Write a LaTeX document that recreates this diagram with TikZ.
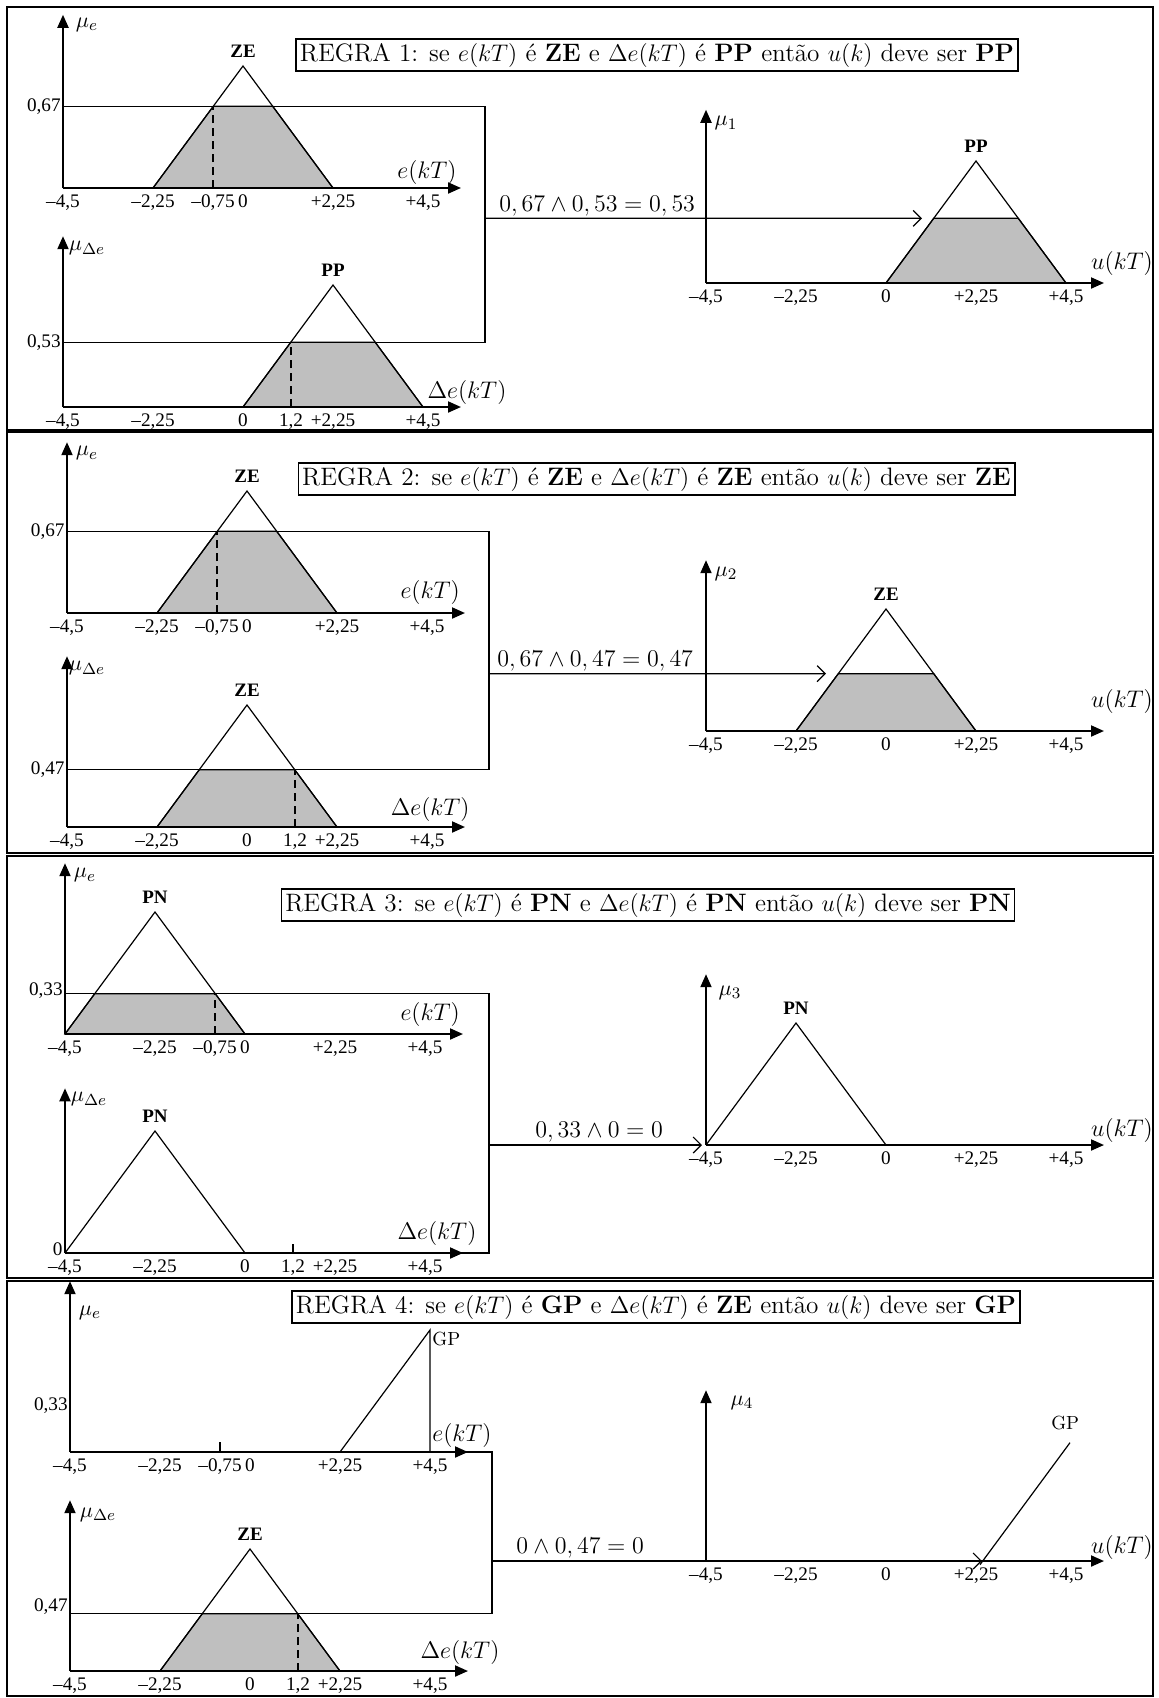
\documentclass[tikz,border=0pt]{standalone}
\usepackage{fontspec}
\usepackage{amsmath}
\newfontfamily\tickfont{Liberation Serif}
\usetikzlibrary{arrows.meta, positioning}

% tick lists of the three axes
\newcommand{\eticks}{-4.5/{–4,5}, -2.25/{–2,25}, -0.75/{–0,75}, 0/0, 2.25/{+2,25}, 4.5/{+4,5}}
\newcommand{\deticks}{-4.5/{–4,5}, -2.25/{–2,25}, 0/0, 1.2/{1,2}, 2.25/{+2,25}, 4.5/{+4,5}}
\newcommand{\uticks}{-4.5/{–4,5}, -2.25/{–2,25}, 0/0, 2.25/{+2,25}, 4.5/{+4,5}}

\begin{document}
\begin{tikzpicture}[
    x=0.5pt, y=-0.5pt,
    panel/.style={line width=0.9pt},
    axis/.style={line width=1pt, -{Triangle[length=6.5pt,width=5.5pt]}},
    mf/.style={line width=0.6pt},
    cut/.style={draw, fill=black!25, line width=0.6pt},
    dashline/.style={line width=0.6pt, dash pattern=on 4pt off 2.5pt},
    guide/.style={line width=0.6pt},
    flow/.style={line width=0.6pt, -{Straight Barb[length=4pt,width=8pt]}},
    tick/.style={font=\tickfont\fontsize{9.6}{11}\selectfont, anchor=north, inner sep=0pt, yshift=-3pt},
    lvl/.style={font=\tickfont\fontsize{9.6}{11}\selectfont, anchor=east, inner sep=1pt},
    setname/.style={font=\tickfont\bfseries\fontsize{9.5}{11}\selectfont, anchor=south, inner sep=1pt, yshift=3pt},
    gpname/.style={font=\fontsize{9.5}{11}\selectfont, inner sep=1pt},
    var/.style={font=\fontsize{12.3}{14}\selectfont, inner sep=0pt},
    mu/.style={font=\fontsize{11}{13}\selectfont, inner sep=0pt},
    rule/.style={draw, line width=0.7pt, inner sep=2pt, font=\fontsize{12.6}{15}\selectfont},
    op/.style={font=\fontsize{12.2}{14}\selectfont, inner sep=1pt}
]
\useasboundingbox (0,0) rectangle (1159,1698);

% ================= REGRA 1 =================
\draw[panel] (7,7) rectangle (1153,430);
\node[rule] (r1) at (657,55) {REGRA 1: se $e(kT)$ é \textbf{ZE} e $\Delta e(kT)$ é \textbf{PP} então $u(k)$ deve ser \textbf{PP}};

% e(kT)
\begin{scope}[shift={(243,188)}, x=20pt, y=61pt]
  \draw[cut] (-2.25,0) -- (-0.7425,0.67) -- (0.7425,0.67) -- (2.25,0) -- cycle;
  \draw[mf] (-2.25,0) -- (0,1) -- (2.25,0);
  \draw[dashline] (-0.75,0) -- (-0.75,0.67);
  \draw[axis] (-4.5,0) -- (5.45,0);
  \draw[axis] (-4.5,0) -- (-4.5,1.42);
  \node[mu] (m1e) at (-3.9,1.34) {$\mu_{e}$};
  \node[setname] (s1e) at (0,1) {ZE};
  \node[var] (v1e) at (4.6,0.13) {$e(kT)$};
  \node[lvl] (l1e) at (-4.5,0.67) {0,67};
  \coordinate (c1e) at (-4.5,0.67);
  \foreach \v/\t [count=\k] in \eticks \node[tick] (t1e\k) at (\v,0) {\t};
\end{scope}

% Delta e(kT)
\begin{scope}[shift={(243,407)}, x=20pt, y=61pt]
  \draw[cut] (0,0) -- (1.1925,0.53) -- (3.3075,0.53) -- (4.5,0) -- cycle;
  \draw[mf] (0,0) -- (2.25,1) -- (4.5,0);
  \draw[dashline] (1.2,0) -- (1.2,0.53);
  \draw[axis] (-4.5,0) -- (5.45,0);
  \draw[axis] (-4.5,0) -- (-4.5,1.4);
  \node[mu] (m1d) at (-3.9,1.3) {$\mu_{\Delta e}$};
  \node[setname] (s1d) at (2.25,1) {PP};
  \node[var] (v1d) at (5.6,0.12) {$\Delta e(kT)$};
  \node[lvl] (l1d) at (-4.5,0.53) {0,53};
  \coordinate (c1d) at (-4.5,0.53);
  \foreach \v/\t [count=\k] in \deticks \node[tick] (t1d\k) at (\v,0) {\t};
\end{scope}

% u(kT)
\begin{scope}[shift={(886,283)}, x=20pt, y=61pt]
  \draw[cut] (0,0) -- (1.1925,0.53) -- (3.3075,0.53) -- (4.5,0) -- cycle;
  \draw[mf] (0,0) -- (2.25,1) -- (4.5,0);
  \draw[axis] (-4.5,0) -- (5.45,0);
  \draw[axis] (-4.5,0) -- (-4.5,1.42);
  \node[mu] (m1u) at (-4.0,1.31) {$\mu_{1}$};
  \node[setname] (s1u) at (2.25,1) {PP};
  \node[var] (v1u) at (5.9,0.16) {$u(kT)$};
  \coordinate (c1u) at (0.9,0.53);
  \foreach \v/\t [count=\k] in \uticks \node[tick] (t1u\k) at (\v,0) {\t};
\end{scope}

\coordinate (c1o) at (485,218.34);
\draw[guide] (c1e) -| (c1o) |- (c1d);
\draw[flow] (c1o) -- (c1u);
\node[op, above right=0pt and 6pt of c1o] (f1) {$0,67\wedge 0,53=0,53$};

% ================= REGRA 2 =================
\draw[panel] (7,432) rectangle (1153,853);
\node[rule] (r2) at (656.5,479) {REGRA 2: se $e(kT)$ é \textbf{ZE} e $\Delta e(kT)$ é \textbf{ZE} então $u(k)$ deve ser \textbf{ZE}};

% e(kT)
\begin{scope}[shift={(247,613)}, x=20pt, y=61pt]
  \draw[cut] (-2.25,0) -- (-0.7425,0.67) -- (0.7425,0.67) -- (2.25,0) -- cycle;
  \draw[mf] (-2.25,0) -- (0,1) -- (2.25,0);
  \draw[dashline] (-0.75,0) -- (-0.75,0.67);
  \draw[axis] (-4.5,0) -- (5.45,0);
  \draw[axis] (-4.5,0) -- (-4.5,1.4);
  \node[mu] (m2e) at (-4.0,1.31) {$\mu_{e}$};
  \node[setname] (s2e) at (0,1) {ZE};
  \node[var] (v2e) at (4.58,0.17) {$e(kT)$};
  \node[lvl] (l2e) at (-4.5,0.67) {0,67};
  \coordinate (c2e) at (-4.5,0.67);
  \foreach \v/\t [count=\k] in \eticks \node[tick] (t2e\k) at (\v,0) {\t};
\end{scope}

% Delta e(kT)
\begin{scope}[shift={(247,827)}, x=20pt, y=61pt]
  \draw[cut] (-2.25,0) -- (-1.1925,0.47) -- (1.1925,0.47) -- (2.25,0) -- cycle;
  \draw[mf] (-2.25,0) -- (0,1) -- (2.25,0);
  \draw[dashline] (1.2,0) -- (1.2,0.47);
  \draw[axis] (-4.5,0) -- (5.45,0);
  \draw[axis] (-4.5,0) -- (-4.5,1.4);
  \node[mu] (m2d) at (-4.0,1.3) {$\mu_{\Delta e}$};
  \node[setname] (s2d) at (0,1) {ZE};
  \node[var] (v2d) at (4.58,0.14) {$\Delta e(kT)$};
  \node[lvl] (l2d) at (-4.5,0.47) {0,47};
  \coordinate (c2d) at (-4.5,0.47);
  \foreach \v/\t [count=\k] in \deticks \node[tick] (t2d\k) at (\v,0) {\t};
\end{scope}

% u(kT)
\begin{scope}[shift={(886,731)}, x=20pt, y=61pt]
  \draw[cut] (-2.25,0) -- (-1.1925,0.47) -- (1.1925,0.47) -- (2.25,0) -- cycle;
  \draw[mf] (-2.25,0) -- (0,1) -- (2.25,0);
  \draw[axis] (-4.5,0) -- (5.45,0);
  \draw[axis] (-4.5,0) -- (-4.5,1.4);
  \node[mu] (m2u) at (-4.0,1.29) {$\mu_{2}$};
  \node[setname] (s2u) at (0,1) {ZE};
  \node[var] (v2u) at (5.9,0.24) {$u(kT)$};
  \coordinate (c2u) at (-1.5,0.47);
  \foreach \v/\t [count=\k] in \uticks \node[tick] (t2u\k) at (\v,0) {\t};
\end{scope}

\coordinate (c2o) at (489,673.66);
\draw[guide] (c2e) -| (c2o) |- (c2d);
\draw[flow] (c2o) -- (c2u);
\node[op, above right=0pt and 3pt of c2o] (f2) {$0,67\wedge 0,47=0,47$};

% ================= REGRA 3 =================
\draw[panel] (7,856) rectangle (1153,1278);
\node[rule] (r3) at (648,905) {REGRA 3: se $e(kT)$ é \textbf{PN} e $\Delta e(kT)$ é \textbf{PN} então $u(k)$ deve ser \textbf{PN}};

% e(kT)
\begin{scope}[shift={(245,1034)}, x=20pt, y=61pt]
  \draw[cut] (-4.5,0) -- (-3.7575,0.33) -- (-0.7425,0.33) -- (0,0) -- cycle;
  \draw[mf] (-4.5,0) -- (-2.25,1) -- (0,0);
  \draw[dashline] (-0.75,0) -- (-0.75,0.33);
  \draw[axis] (-4.5,0) -- (5.45,0);
  \draw[axis] (-4.5,0) -- (-4.5,1.4);
  \node[mu] (m3e) at (-4.0,1.3) {$\mu_{e}$};
  \node[setname] (s3e) at (-2.25,1) {PN};
  \node[var] (v3e) at (4.63,0.16) {$e(kT)$};
  \node[lvl] (l3e) at (-4.5,0.36) {0,33};
  \coordinate (c3e) at (-4.5,0.33);
  \foreach \v/\t [count=\k] in \eticks \node[tick] (t3e\k) at (\v,0) {\t};
\end{scope}

% Delta e(kT)
\begin{scope}[shift={(245,1253)}, x=20pt, y=61pt]
  \draw[mf] (-4.5,0) -- (-2.25,1) -- (0,0);
  \draw[mf] (1.2,0) -- (1.2,0.07);
  \draw[axis] (-4.5,0) -- (5.45,0);
  \draw[axis] (-4.5,0) -- (-4.5,1.35);
  \node[mu] (m3d) at (-3.9,1.26) {$\mu_{\Delta e}$};
  \node[setname] (s3d) at (-2.25,1) {PN};
  \node[var] (v3d) at (4.8,0.16) {$\Delta e(kT)$};
  \node[lvl] (l3d) at (-4.5,0.03) {0};
  \coordinate (c3d) at (-4.5,0);
  \foreach \v/\t [count=\k] in \deticks \node[tick] (t3d\k) at (\v,0) {\t};
\end{scope}

% u(kT)
\begin{scope}[shift={(886,1145)}, x=20pt, y=61pt]
  \draw[mf] (-4.5,0) -- (-2.25,1) -- (0,0);
  \draw[axis] (-4.5,0) -- (5.45,0);
  \draw[axis] (-4.5,0) -- (-4.5,1.4);
  \node[mu] (m3u) at (-3.9,1.25) {$\mu_{3}$};
  \node[setname] (s3u) at (-2.25,1) {PN};
  \node[var] (v3u) at (5.9,0.12) {$u(kT)$};
  \coordinate (c3u) at (-4.6,0);
  \foreach \v/\t [count=\k] in \uticks \node[tick] (t3u\k) at (\v,0) {\t};
\end{scope}

\coordinate (c3o) at (489,1145);
\draw[guide] (c3e) -| (c3o) |- (c3d);
\draw[flow] (c3o) -- (c3u);
\node[op, above right=0pt and 22pt of c3o] (f3) {$0,33\wedge 0=0$};

% ================= REGRA 4 =================
\draw[panel] (7,1281) rectangle (1153,1696);
\node[rule] (r4) at (656,1307) {REGRA 4: se $e(kT)$ é \textbf{GP} e $\Delta e(kT)$ é \textbf{ZE} então $u(k)$ deve ser \textbf{GP}};

% e(kT)
\begin{scope}[shift={(250,1452)}, x=20pt, y=61pt]
  \draw[mf] (2.25,0) -- (4.5,1) -- (4.5,0);
  \draw[mf] (-0.75,0) -- (-0.75,0.08);
  \draw[axis] (-4.5,0) -- (5.45,0);
  \draw[axis] (-4.5,0) -- (-4.5,1.4);
  \node[mu] (m4e) at (-4.0,1.14) {$\mu_{e}$};
  \node[gpname, anchor=north west] (s4e) at (4.5,1) {GP};
  \node[var, anchor=south west, inner sep=1pt] (v4e) at (4.5,0.02) {$e(kT)$};
  \node[lvl] (l4e) at (-4.5,0.38) {0,33};
  \coordinate (c4e) at (-4.5,0);
  \foreach \v/\t [count=\k] in \eticks \node[tick] (t4e\k) at (\v,0) {\t};
\end{scope}

% Delta e(kT)
\begin{scope}[shift={(250,1671)}, x=20pt, y=61pt]
  \draw[cut] (-2.25,0) -- (-1.1925,0.47) -- (1.1925,0.47) -- (2.25,0) -- cycle;
  \draw[mf] (-2.25,0) -- (0,1) -- (2.25,0);
  \draw[dashline] (1.2,0) -- (1.2,0.47);
  \draw[axis] (-4.5,0) -- (5.45,0);
  \draw[axis] (-4.5,0) -- (-4.5,1.4);
  \node[mu] (m4d) at (-3.8,1.28) {$\mu_{\Delta e}$};
  \node[setname] (s4d) at (0,1) {ZE};
  \node[var] (v4d) at (5.25,0.15) {$\Delta e(kT)$};
  \node[lvl] (l4d) at (-4.5,0.53) {0,47};
  \coordinate (c4d) at (-4.5,0.47);
  \foreach \v/\t [count=\k] in \deticks \node[tick] (t4d\k) at (\v,0) {\t};
\end{scope}

% u(kT)
\begin{scope}[shift={(886,1561)}, x=20pt, y=61pt]
  \draw[mf] (2.35,-0.03) -- (4.6,0.97);
  \draw[axis] (-4.5,0) -- (5.45,0);
  \draw[axis] (-4.5,0) -- (-4.5,1.4);
  \node[mu] (m4u) at (-3.6,1.3) {$\mu_{4}$};
  \node[gpname] (s4u) at (4.48,1.13) {GP};
  \node[var] (v4u) at (5.9,0.11) {$u(kT)$};
  \coordinate (c4u) at (2.4,0);
  \foreach \v/\t [count=\k] in \uticks \node[tick] (t4u\k) at (\v,0) {\t};
\end{scope}

\coordinate (c4o) at (492,1561);
\draw[guide] (c4e) -| (c4o) |- (c4d);
\draw[flow] (c4o) -- (c4u);
\node[op, above right=0pt and 11pt of c4o] (f4) {$0\wedge 0,47=0$};

\end{tikzpicture}
\end{document}
